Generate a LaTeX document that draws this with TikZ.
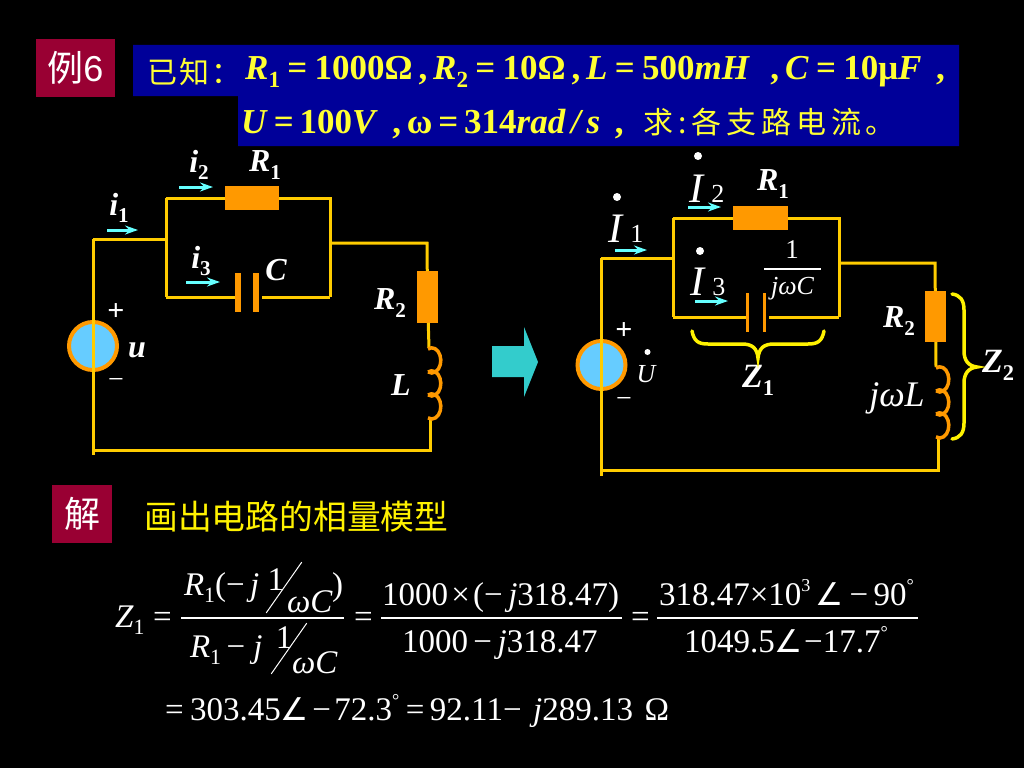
\documentclass[tikz,border=0pt]{standalone}
\usepackage{fontspec}
\setmainfont{Liberation Serif}
\setsansfont{Liberation Sans}
\newfontfamily\cjkf{Noto Sans CJK SC}
\newfontfamily\cjkg[LetterSpace=8]{Noto Sans CJK SC}
\newfontfamily\cjkh[LetterSpace=16]{Noto Sans CJK SC}
\newfontfamily\angf{DejaVu Sans}
\usetikzlibrary{arrows.meta}
\usetikzlibrary{positioning}
\definecolor{wireyel}{HTML}{FFCC00}
\definecolor{partor}{HTML}{FF9900}
\definecolor{srcblue}{HTML}{66CCFF}
\definecolor{arrcyan}{HTML}{66FFFF}
\definecolor{bigcyan}{HTML}{33CCCC}
\definecolor{boxred}{HTML}{990033}
\definecolor{boxblue}{HTML}{000099}
\definecolor{txtyel}{HTML}{FFFF33}
\def\mysize#1{\fontsize{#1pt}{#1pt}\selectfont}
\newcommand\mysub[1]{\raisebox{-.24em}{\scalebox{.66}{\upshape #1}}}
\newcommand\mybig[1]{\hspace{.2em}\scalebox{.62}{\upshape\mdseries #1}}
\newcommand\myang{{\angf\scalebox{.95}{∠}}}
\newcommand\mydeg{\raisebox{.42em}{\scalebox{.55}{°}}}
\newcommand\myeq{\hspace{.21em}=\hspace{.21em}}
\tikzset{
>={Stealth[length=13pt,width=9pt]},
wire/.style={draw=wireyel,line width=3pt},
my part/.style={fill=partor,inner sep=0pt,outer sep=0pt,rectangle},
plate/.style={my part,minimum width=6pt,minimum height=39pt},
thin plate/.style={my part,minimum width=3pt,minimum height=39pt},
source/.style={circle,draw=partor,fill=srcblue,line width=4pt,minimum size=48pt,inner sep=0pt},
coil/.style={draw=partor,line width=3.5pt},
flow/.style={draw=arrcyan,line width=3pt,->},
curly/.style={draw=yellow,line width=3.5pt,line cap=round},
tag/.style={inner sep=0pt,outer sep=0pt,text=white},
lab/.style={tag,font=\mysize{32}\bfseries\itshape},
big/.style={tag,font=\mysize{42}\itshape},
mark/.style={circle,fill=white,inner sep=0pt,minimum size=#1},
bar/.style={fill=white,inner sep=0pt,outer sep=0pt,minimum height=1.6pt},
eq/.style={tag,anchor=base west,font=\mysize{33}},
head/.style={inner sep=0pt,text=txtyel,anchor=west,font=\mysize{35}\bfseries},
badge/.style={fill=boxred,inner sep=0pt,text=white,font=\mysize{36}\cjkf}
}
\begin{document}
\begin{tikzpicture}[x=1pt,y=-1pt]
\useasboundingbox (0,0) rectangle (1024,768);
\fill[black] (0,0) rectangle (1024,768);

\node[badge,minimum width=79pt,minimum height=58pt] (ex) at (75.5,68) {例{\sffamily 6}};
\fill[boxblue] (133,45) -- (959,45) -- (959,146) -- (238,146) -- (238,96) -- (133,96) -- cycle;
\node[head,font=\mysize{30}\cjkg] (known) at (147,72) {已知：};
\node[head] (lineone) at (245,72) {\textit{R}\mysub{1}\myeq 1000Ω\,,\,\textit{R}\mysub{2}\myeq 10Ω\,,\,\textit{L}\myeq 500\textit{mH}\, \,,\,\textit{C}\myeq 10μ\textit{F}\, ,};
\node[head] (linetwo) at (241,123) {\textit{U}\,=\,100\textit{V}\, ,\,ω\,=\,314\textit{rad\,/\,s}\, ,\ \ \hspace{.08em}{\mdseries\mysize{30}\cjkh 求:各支路电流。}};

% time domain circuit
\node[source] (usrc) at (93,346) {};
\node[my part,minimum width=54pt,minimum height=24pt] (rone) at (252,198) {};
\node[plate] (cl) at (238,292.5) {};
\node[plate] (cr) at (255.5,292.5) {};
\node[my part,minimum width=21pt,minimum height=52pt] (rtwo) at (427.5,297) {};
\coordinate (a) at (93,239);
\coordinate (b) at (93,455);
\coordinate (c) at (166,239);
\coordinate (d) at (166,198);
\coordinate (e) at (166,297);
\coordinate (f) at (330,198);
\coordinate (g) at (330,297);
\coordinate (gg) at (262,297);
\coordinate (h) at (330,243);
\coordinate (k) at (427,243);
\coordinate (ltop) at (429,348);
\coordinate (lbot) at (430,417);
\coordinate (m) at (430,450);
\coordinate (n) at (93,450);
\draw[wire] (a) -- (b);
\draw[wire] (a) -- (c);
\draw[wire] (d) -- (e);
\draw[wire] (d) -- (rone);
\draw[wire] (rone) -- (f) -- (g);
\draw[wire] (e) -- (e -| cl.west);
\draw[wire] (gg) -- (g);
\draw[wire] (h) -- (k) -- (rtwo);
\draw[wire] (rtwo) -- (ltop);
\draw[wire] (lbot) -- (m) -- (n);
\foreach \i in {0,1,2}
  \draw[coil] (428,349+\i*23) arc[start angle=-115,end angle=115,x radius=9,y radius=12.6];
\coordinate (ione) at (107,230);
\coordinate (itwo) at (179,187);
\coordinate (ithree) at (186,282);
\draw[flow] (ione) -- +(31,0);
\draw[flow] (itwo) -- +(34,0);
\draw[flow] (ithree) -- +(34,0);
\node[lab] (ionel) at (119,208) {\textit{i}\mysub{1}};
\node[lab] (itwol) at (199,165) {\textit{i}\mysub{2}};
\node[lab] (ithreel) at (201,261) {\textit{i}\mysub{3}};
\node[lab] (ronel) at (265,165) {\textit{R}\mysub{1}};
\node[lab] (rtwol) at (390,303) {\textit{R}\mysub{2}};
\node[lab] (cc) at (276,270) {\textit{C}};
\node[lab] (ll) at (401,385) {\textit{L}};
\node[lab] (uu) at (137,350) {\textit{u}};
\node[lab,font=\mysize{30}\bfseries] (plusl) at (116,312) {+};
\node[lab,font=\mysize{28}] (minusl) at (116,383) {−};

% phasor arrow
\fill[bigcyan] (492,346) -- (524,346) -- (524,327) -- (538,362) -- (524,397) -- (524,377) -- (492,377) -- cycle;

% phasor circuit
\node[source] (usrcb) at (601.5,365) {};
\node[my part,minimum width=55pt,minimum height=24pt] (roneb) at (760.5,218) {};
\node[thin plate] (clb) at (747,312.5) {};
\node[thin plate] (crb) at (764,312.5) {};
\node[my part,minimum width=21pt,minimum height=51pt] (rtwob) at (935.5,316.5) {};
\coordinate (p) at (601,258);
\coordinate (q) at (601,476);
\coordinate (r) at (673,258);
\coordinate (s) at (673,218);
\coordinate (t) at (673,317);
\coordinate (u) at (839,218);
\coordinate (v) at (839,317);
\coordinate (vv) at (769,317);
\coordinate (w) at (839,263);
\coordinate (x) at (935,263);
\coordinate (ltopb) at (936,367);
\coordinate (lbotb) at (938,436);
\coordinate (y) at (938,470);
\coordinate (z) at (601,470);
\draw[wire] (p) -- (q);
\draw[wire] (p) -- (r);
\draw[wire] (s) -- (t);
\draw[wire] (s) -- (roneb);
\draw[wire] (roneb) -- (u) -- (v);
\draw[wire] (t) -- (t -| clb.west);
\draw[wire] (vv) -- (v);
\draw[wire] (w) -- (x) -- (rtwob);
\draw[wire] (rtwob) -- (ltopb);
\draw[wire] (lbotb) -- (y) -- (z);
\foreach \i in {0,1,2}
  \draw[coil] (936,368+\i*23) arc[start angle=-115,end angle=115,x radius=9,y radius=12.6];
\coordinate (jone) at (615,250);
\coordinate (jtwo) at (688,207);
\coordinate (jthree) at (695,301);
\draw[flow] (jone) -- +(32,0);
\draw[flow] (jtwo) -- +(33,0);
\draw[flow] (jthree) -- +(33,0);
\node[big,anchor=base west] (jonel) at (608,242) {\textit{I}\mybig{1}};
\node[big,anchor=base west] (jtwol) at (689,202) {\textit{I}\mybig{2}};
\node[big,anchor=base west] (jthreel) at (690,295) {\textit{I}\mybig{3}};
\node[mark=8pt] (dotone) at (617,197) {};
\node[mark=8pt] (dottwo) at (698,156) {};
\node[mark=8pt] (dotthree) at (700,251) {};
\node[mark=6pt] (dotu) at (647.5,352) {};
\node[tag,font=\mysize{26}\itshape] (ub) at (646,374) {\textit{U}};
\node[lab] (ronelb) at (773,184) {\textit{R}\mysub{1}};
\node[lab] (rtwolb) at (899,321) {\textit{R}\mysub{2}};
\node[tag,font=\mysize{27}] (onef) at (792,250) {1};
\node[bar,minimum width=57pt] (barc) at (792.5,269) {};
\node[tag,font=\mysize{26}\itshape,below=7pt of barc] (jwc) {\textit{jωC}};
\node[tag,font=\mysize{36}\itshape] (jwl) at (897,398) {\textit{jωL}};
\node[lab,font=\mysize{34}\bfseries\itshape] (zone) at (758,380) {\textit{Z}\mysub{1}};
\node[lab,font=\mysize{34}\bfseries\itshape] (ztwo) at (998,365) {\textit{Z}\mysub{2}};
\node[lab,font=\mysize{30}\bfseries] (plusr) at (624,331) {+};
\node[lab,font=\mysize{28}] (minusr) at (624,402) {−};
\draw[curly] (692,331) .. controls (694,341) and (698,344) .. (708,344) -- (742,344) .. controls (752,344) and (757,348) .. (758,358) .. controls (759,348) and (764,344) .. (774,344) -- (808,344) .. controls (818,344) and (822,341) .. (824,331);
\draw[curly] (952,294) .. controls (960,295) and (964,300) .. (964,310) -- (964,351) .. controls (964,360) and (968,366) .. (977,367) .. controls (968,368) and (964,374) .. (964,383) -- (964,423) .. controls (964,433) and (960,438) .. (952,439);

\node[badge,minimum width=60pt,minimum height=58pt] (sol) at (82,514) {解};
\node[inner sep=0pt,anchor=west,text=yellow,font=\mysize{33.8}\cjkf] (plan) at (144,517) {画出电路的相量模型};

% equations
\node[eq] (zeq) at (115,627) {\textit{Z}\mysub{1}};
\node[eq] (eqa) at (153,627) {=};
\node[bar,minimum width=163pt] (bara) at (262.5,618) {};
\node[eq] (numa) at (184,595) {\textit{R}\mysub{1}(−\,\textit{j}\ \raisebox{.15em}{1}};
\node[bar,minimum width=62pt,minimum height=1pt,rotate=55] (sla) at (284,587.5) {};
\node[eq] (wca) at (287,612) {\textit{ωC}};
\node[eq] (para) at (332,595) {)};
\node[eq] (dena) at (190,657) {\textit{R}\mysub{1}\,−\hspace{.25em}\textit{j}\hspace{.4em}\raisebox{.27em}{1}};
\node[bar,minimum width=62pt,minimum height=1pt,rotate=55] (slb) at (289,648.5) {};
\node[eq] (wcb) at (292,673) {\textit{ωC}};
\node[eq] (eqb) at (354,627) {=};
\node[bar,minimum width=241pt] (barb) at (501.5,618) {};
\node[eq] (numb) at (382,605) {1000\hspace{.1em}×\hspace{.1em}(−\,\textit{j}318.47)};
\node[eq] (denb) at (402,652) {1000\,−\,\textit{j}318.47};
\node[eq] (eqc) at (631,627) {=};
\node[bar,minimum width=261pt] (barcc) at (787.5,618) {};
\node[eq] (numc) at (659,605) {318.47×10\raisebox{.42em}{\scalebox{.55}{3}}\,\myang\,−\,90\mydeg};
\node[eq] (denc) at (684,652) {1049.5\myang\hspace{.04em}−17.7\mydeg};
\node[eq] (lastline) at (165,720) {=\hspace{.2em}303.45\myang\hspace{.1em}−\hspace{.1em}72.3\mydeg\hspace{.2em}=\,92.11−\hspace{.35em}\textit{j}289.13\hspace{.35em}Ω};
\end{tikzpicture}
\end{document}
